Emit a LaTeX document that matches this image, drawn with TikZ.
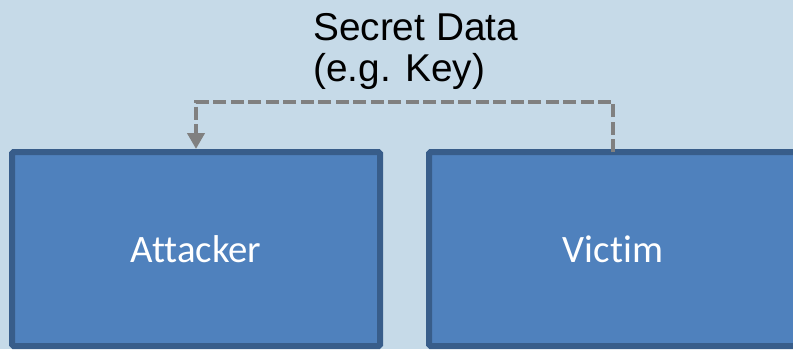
\documentclass[tikz,border=0pt]{standalone}
\usepackage{fontspec}
\setmainfont{Liberation Sans}
\newfontfamily\labelfont[Ligatures=NoCommon]{Carlito}
\usetikzlibrary{arrows.meta}
\definecolor{bgblue}{HTML}{C6DAE8}
\definecolor{boxfill}{HTML}{4F81BD}
\definecolor{boxedge}{HTML}{385D8A}
\definecolor{flowgray}{HTML}{808080}
\tikzset{
  party/.style={draw=boxedge, fill=boxfill, line width=6pt, rounded corners=1.5pt,
    minimum width=368pt, minimum height=194pt, inner sep=0pt, outer sep=0pt,
    text=white, font=\labelfont\fontsize{38.8}{41}\selectfont},
  leak/.style={draw=flowgray, line width=4pt, dash pattern=on 13pt off 4.5pt,
    -{Triangle[length=16pt,width=17pt]}},
  note/.style={align=left, inner sep=0pt, font=\fontsize{38.8}{41}\selectfont}
}
\begin{document}
\begin{tikzpicture}[x=1pt, y=-1pt]
  \fill[bgblue] (0,0) rectangle (793,349);
  \useasboundingbox (0,0) rectangle (793,349);
  \clip (0,0) rectangle (793,349);
  % the two parties
  \node[party] (attacker) at (196,249) {Attacker};
  \node[party] (victim) at (613,249) {Victim};
  % leaked secret flowing from victim to attacker
  \node[note, anchor=base west] (secret) at (313,81) {Secret Data\\(e.g. Key)};
  \coordinate (route) at (0,101.5);
  \draw[leak] (victim.north) -- (victim.north |- route) -- (attacker.north |- route)
    -- ([yshift=3pt]attacker.north);
\end{tikzpicture}
\end{document}
